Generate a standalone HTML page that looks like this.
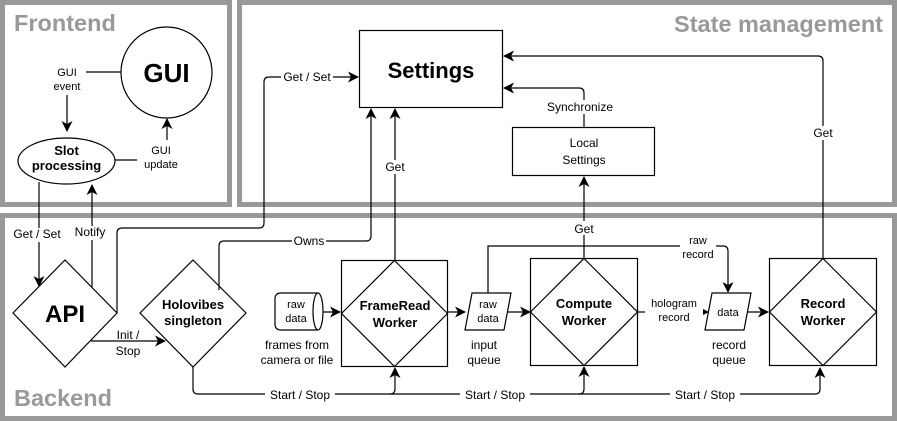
<!DOCTYPE html>
<html><head><meta charset="utf-8"><style>
html,body{margin:0;padding:0;background:#fff;}
svg{display:block;}
text{font-family:"Liberation Sans",sans-serif;fill:#000;}
.s{font-size:11px;text-anchor:middle;}
.t{font-size:12px;text-anchor:middle;}
.b{font-weight:bold;font-size:13px;text-anchor:middle;}
.h{font-weight:bold;font-size:23.5px;fill:#999;}
.l{fill:none;stroke:#000;stroke-width:1.2;}
.bg{fill:#fff;}
</style></head><body>
<svg width="897" height="421" viewBox="0 0 897 421">
<defs><marker id="a" markerWidth="11" markerHeight="11" refX="10" refY="5.5" orient="auto" markerUnits="userSpaceOnUse"><path d="M0,0 L11,5.5 L0,11 L3,5.5 z" fill="#000"/></marker></defs>
<g fill="none" stroke="#999" stroke-width="5">
<rect x="2.5" y="2.5" width="227" height="202"/>
<rect x="239.5" y="2.5" width="655" height="202"/>
<rect x="2.5" y="215.5" width="892" height="203"/>
</g>
<text class="h" x="14" y="31">Frontend</text>
<text class="h" x="883" y="32" text-anchor="end">State management</text>
<text class="h" x="14" y="406">Backend</text>

<!-- GUI -->
<circle cx="166.5" cy="72.5" r="45.5" class="l"/>
<text x="166.5" y="82" font-size="26" font-weight="bold" text-anchor="middle">GUI</text>
<path class="l" d="M86,72 H121"/>
<text class="s" x="67" y="76">GUI</text><text class="s" x="67" y="90">event</text>
<path class="l" d="M67,95 V131" marker-end="url(#a)"/>
<ellipse cx="66.5" cy="161" rx="48.5" ry="23" class="l"/>
<text class="b" x="66.5" y="155" font-size="12">Slot</text><text class="b" x="66.5" y="170" font-size="12">processing</text>
<path class="l" d="M115,160 H137"/>
<text class="s" x="161" y="154">GUI</text><text class="s" x="161" y="168">update</text>
<path class="l" d="M167,140 V119" marker-end="url(#a)"/>
<path class="l" d="M39,182 V286" marker-end="url(#a)"/>
<path class="l" d="M92,287 V185" marker-end="url(#a)"/>
<rect x="8" y="228" width="60" height="14" class="bg"/>
<text class="t" x="37" y="238">Get / Set</text>
<rect x="72" y="226" width="38" height="14" class="bg"/>
<text class="t" x="90" y="236">Notify</text>

<!-- API / Holovibes -->
<path class="l" d="M65,260 L117,313 L65,367 L13,313 Z"/>
<text x="65" y="322" font-size="24" font-weight="bold" text-anchor="middle">API</text>
<path class="l" d="M193,260 L246,313 L193,367 L140,313 Z"/>
<text class="b" x="193" y="309">Holovibes</text><text class="b" x="193" y="325">singleton</text>
<path class="l" d="M91,341 H165" marker-end="url(#a)"/>
<text class="t" x="128" y="339">Init /</text><text class="t" x="128" y="355">Stop</text>

<path class="l" d="M117,313 V233 Q117,228 122,228 H259 Q264,228 264,223 V82 Q264,77 269,77 H358" marker-end="url(#a)"/>
<rect x="281" y="70" width="52" height="14" class="bg"/>
<text class="t" x="307" y="81">Get / Set</text>
<path class="l" d="M219,290 V246 Q219,241 224,241 H366 Q371,241 371,236 V109" marker-end="url(#a)"/>
<rect x="292" y="234" width="34" height="14" class="bg"/>
<text class="t" x="309" y="245">Owns</text>

<!-- Settings -->
<rect x="359.5" y="30.5" width="143" height="77" class="l" fill="#fff"/>
<text x="431" y="78" font-size="22" font-weight="bold" text-anchor="middle">Settings</text>

<!-- FrameRead -->
<rect x="341.5" y="260.5" width="106" height="106" class="l"/>
<path class="l" d="M394.5,260.5 L447.5,313.5 L394.5,366.5 L341.5,313.5 Z"/>
<text class="b" x="395" y="310">FrameRead</text><text class="b" x="395" y="327">Worker</text>
<path class="l" d="M395,260 V109" marker-end="url(#a)"/>
<rect x="383" y="160" width="24" height="14" class="bg"/>
<text class="t" x="395" y="171">Get</text>

<!-- cylinder -->
<path class="l" d="M281,293 H318 A5,18.5 0 0 1 318,330 H281 Q275,330 275,324 V299 Q275,293 281,293 Z"/>
<path class="l" d="M318,293 A5,18.5 0 0 0 318,330"/>
<text class="s" x="296" y="308">raw</text><text class="s" x="296" y="322">data</text>
<path class="l" d="M323,312 H340" marker-end="url(#a)"/>
<text class="t" x="297" y="349">frames from</text><text class="t" x="297" y="364">camera or file</text>

<!-- input queue -->
<path class="l" d="M472,293 H511 L504,330 H465 Z"/>
<text class="s" x="488" y="308">raw</text><text class="s" x="488" y="322">data</text>
<path class="l" d="M448,312 H465" marker-end="url(#a)"/>
<path class="l" d="M508,312 H530" marker-end="url(#a)"/>
<text class="t" x="484" y="349">input</text><text class="t" x="484" y="364">queue</text>

<!-- Compute -->
<rect x="530.5" y="258.5" width="107" height="107" class="l"/>
<path class="l" d="M584,258.5 L637.5,312 L584,365.5 L530.5,312 Z"/>
<text class="b" x="584" y="308">Compute</text><text class="b" x="584" y="325">Worker</text>
<path class="l" d="M584,258 V177" marker-end="url(#a)"/>
<rect x="572" y="221" width="24" height="14" class="bg"/>
<text class="t" x="584" y="233">Get</text>

<!-- Local settings -->
<rect x="512.5" y="127.5" width="142" height="48" class="l"/>
<text class="t" x="584" y="147">Local</text><text class="t" x="584" y="164">Settings</text>
<path class="l" d="M584,127 V93 Q584,88 579,88 H504" marker-end="url(#a)"/>
<rect x="545" y="100" width="78" height="14" class="bg"/>
<text class="t" x="580" y="111">Synchronize</text>
<path class="l" d="M823,258 V61 Q823,56 818,56 H504" marker-end="url(#a)"/>
<rect x="811" y="126" width="24" height="14" class="bg"/>
<text class="t" x="823" y="137">Get</text>

<!-- raw record -->
<path class="l" d="M488,293 V246 H723 Q728,246 728,251 V292" marker-end="url(#a)"/>
<rect x="680" y="235" width="36" height="26" class="bg"/>
<text class="s" x="698" y="244">raw</text><text class="s" x="698" y="258">record</text>

<!-- hologram record -->
<path class="l" d="M638,312 H708" marker-end="url(#a)"/>
<rect x="645" y="297" width="58" height="28" class="bg"/>
<text class="s" x="674" y="307">hologram</text><text class="s" x="674" y="321">record</text>

<!-- data queue -->
<path class="l" d="M712,293 H751 L744,330 H705 Z"/>
<text class="s" x="728" y="316">data</text>
<path class="l" d="M748,312 H768" marker-end="url(#a)"/>
<text class="t" x="729" y="349">record</text><text class="t" x="729" y="364">queue</text>

<!-- Record -->
<rect x="769.5" y="258.5" width="107" height="107" class="l"/>
<path class="l" d="M823,258.5 L876.5,312 L823,365.5 L769.5,312 Z"/>
<text class="b" x="823" y="308">Record</text><text class="b" x="823" y="325">Worker</text>

<!-- Start/Stop -->
<path class="l" d="M193,367 V389 Q193,394 198,394 H815 Q820,394 820,389 V368" marker-end="url(#a)"/>
<path class="l" d="M390,394 Q395,394 395,389 V368" marker-end="url(#a)"/>
<path class="l" d="M579,394 Q584,394 584,389 V367" marker-end="url(#a)"/>
<rect x="265" y="388" width="70" height="13" class="bg"/>
<text class="t" x="300" y="399">Start / Stop</text>
<rect x="460" y="388" width="70" height="13" class="bg"/>
<text class="t" x="495" y="399">Start / Stop</text>
<rect x="670" y="388" width="70" height="13" class="bg"/>
<text class="t" x="705" y="399">Start / Stop</text>
</svg>
</body></html>
